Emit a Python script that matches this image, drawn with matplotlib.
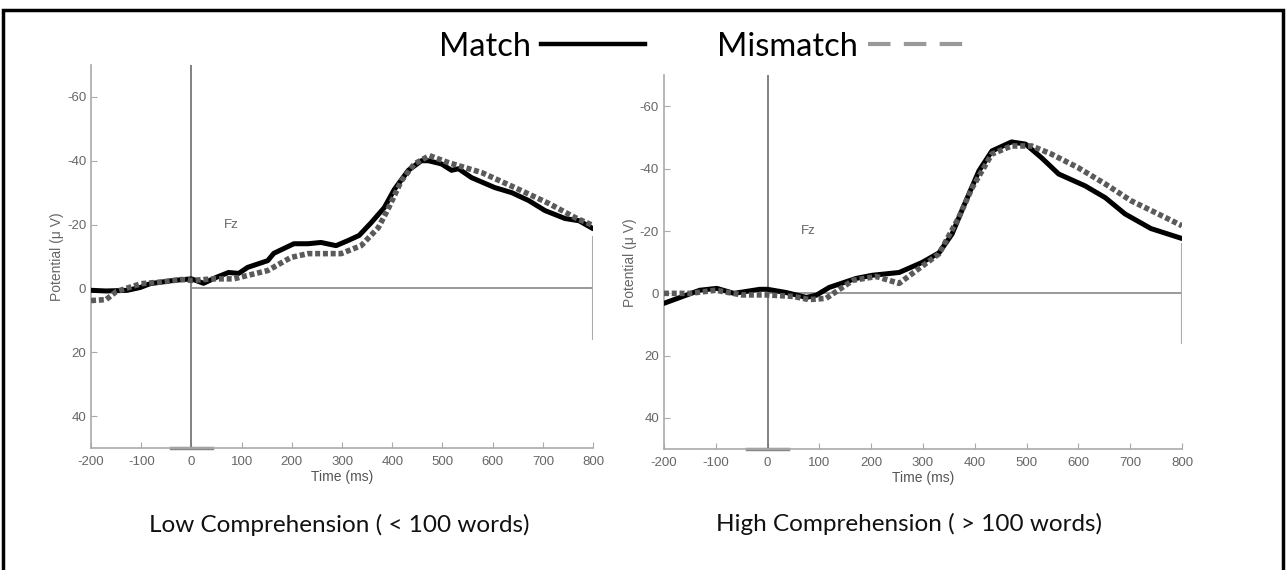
import matplotlib
matplotlib.use("Agg")
import matplotlib.pyplot as plt
from matplotlib.lines import Line2D
from matplotlib.patches import Rectangle

plt.rcParams['axes.unicode_minus'] = False

# ERP at Fz, time in ms, potential in microvolts (negative up)
low_t_match = [-200, -170, -128, -102, -82, -36, 0, 24, 50, 74, 94, 112, 152, 164, 204, 232,
               258, 288, 312, 334, 358, 384, 404, 432, 458, 472, 498, 518, 532, 558, 604,
               638, 672, 704, 744, 772, 800]
low_v_match = [0.6, 0.8, 0.6, -0.3, -1.5, -2.5, -3, -1.6, -3.5, -5, -4.7, -6.6, -8.7, -11, -14, -14,
               -14.4, -13.4, -15, -16.6, -20.6, -25.3, -31, -37, -40, -40, -39, -37, -37.5,
               -34.7, -31.6, -30, -27.5, -24.4, -21.9, -21.2, -18.7]

low_t_mis = [-200, -170, -150, -120, -100, -60, -20, 0, 44, 84, 152, 198, 232, 298, 338, 372,
             392, 418, 444, 474, 512, 578, 644, 712, 764, 800]
low_v_mis = [3.8, 3.5, 1, -0.5, -1.5, -2, -2.8, -2.5, -3, -3, -5.6, -9.7, -10.9, -10.9, -13.4,
             -19, -25, -33.7, -39, -41.6, -39.4, -36.3, -31.6, -26.6, -22.2, -19.7]

high_t_match = [-200, -131, -98, -65, -15, 0, 35, 75, 94, 119, 171, 202, 254, 298, 331, 356,
                383, 408, 433, 471, 498, 529, 562, 613, 652, 690, 740, 800]
high_v_match = [3.2, -1, -1.6, 0, -1.3, -1.3, -0.3, 1.3, 0.6, -1.9, -4.8, -5.8, -6.7, -9.9, -13,
                -19, -29.7, -39.3, -45.7, -48.6, -47.9, -43.5, -38.3, -34.5, -30.7, -25.5,
                -20.8, -17.6]

high_t_mis = [-200, -150, -100, -50, 0, 50, 80, 113, 165, 210, 254, 287, 331, 369, 395, 433,
              471, 510, 548, 600, 652, 702, 754, 800]
high_v_mis = [0, 0, -1, 0.5, 0.5, 1, 2, 1.6, -4.2, -5.4, -3.2, -7.3, -12.7, -24.3, -33.9, -44.7,
              -47.3, -47.3, -44.7, -40.3, -35.1, -29.7, -25.5, -21.7]

x_ticks = [-200, -100, 0, 100, 200, 300, 400, 500, 600, 700, 800]
y_ticks = [-60, -40, -20, 0, 20, 40]

panels = [
    ([0.0708, 0.214, 0.3904, 0.672], low_t_match, low_v_match, low_t_mis, low_v_mis,
     "Low Comprehension ( < 100 words)", 0.495),
    ([0.5163, 0.212, 0.4028, 0.656], high_t_match, high_v_match, high_t_mis, high_v_mis,
     "High Comprehension ( > 100 words)", 0.473),
]

fig = plt.figure(figsize=(12.86, 5.70), dpi=100)

for rect, tm, vm, tx, vx, title, title_x in panels:
    ax = fig.add_axes(rect)
    ax.set_xlim(-200, 800)
    ax.set_ylim(50, -70)
    for s in ['top', 'right']:
        ax.spines[s].set_visible(False)
    for s in ['left', 'bottom']:
        ax.spines[s].set_color('#aaaaaa')
        ax.spines[s].set_linewidth(1.2)
    ax.set_xticks(x_ticks)
    ax.set_yticks(y_ticks)
    ax.tick_params(direction='in', length=4, color='#aaaaaa', labelcolor='#666666',
                   labelsize=9.5)
    ax.tick_params(axis='x', pad=6)
    for lab in ax.get_xticklabels() + ax.get_yticklabels():
        lab.set_family('Liberation Sans')

    # reference lines
    ax.axvline(0, color='#777777', lw=1.3)
    ax.plot([0, 800], [0, 0], color='#888888', lw=1.2)
    ax.plot([800, 800], [-16, 16], color='#aaaaaa', lw=1.5)
    ax.plot([-40, 40], [50, 50], color='#888888', lw=2.5, clip_on=False)

    ax.plot(tm, vm, color='black', lw=3.6, solid_capstyle='round', zorder=3)
    ax.plot(tx, vx, color='#5a5a5a', lw=4, linestyle=(0, (0.9, 0.5)), zorder=4)

    ax.text(65, -19, "Fz", fontsize=9.5, color='#666666', family='Liberation Sans')
    ax.set_xlabel("Time (ms)", fontsize=10, color='#555555', family='Liberation Sans',
                  labelpad=1)
    ax.set_ylabel("Potential (\u03bc V)", fontsize=10, color='#666666',
                  family='Liberation Sans', labelpad=2)
    ax.text(title_x, -0.2, title, transform=ax.transAxes, ha='center', va='center',
            fontsize=17.5, family='Lato', color='#111111')

handles = [Line2D([], [], color='black', lw=3.2),
           Line2D([], [], color='#999999', lw=3, linestyle=(0, (5.4, 3.2)))]
fig.legend(handles, ["Match", "Mismatch"], loc='center', bbox_to_anchor=(0.5485, 0.918),
           ncol=2, markerfirst=False, frameon=False, handlelength=3.2, handletextpad=0.3,
           columnspacing=2.2, prop={'family': 'Lato', 'size': 23.5})

fig.add_artist(Rectangle((0.0025, -0.02), 0.9955, 1.02 - 10 / 570, transform=fig.transFigure,
                         fill=False, edgecolor='black', lw=2.5))

fig.savefig("out.png", dpi=100)
